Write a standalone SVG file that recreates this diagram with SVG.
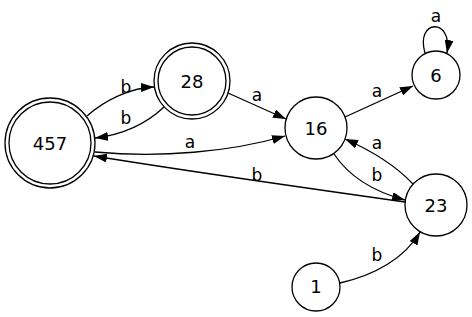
<svg xmlns="http://www.w3.org/2000/svg" width="472" height="317" viewBox="0 0 472 317">
<style>
.n{fill:#fff;stroke:#000;stroke-width:1.3}
.e{fill:none;stroke:#000;stroke-width:1.3}
.t{font-family:"DejaVu Sans",sans-serif;font-size:18px;text-anchor:middle;fill:#000}
.l{font-family:"DejaVu Sans",sans-serif;font-size:17px;text-anchor:middle;fill:#000}
</style>
<defs>
<marker id="ah" viewBox="0 0 13 9" refX="13" refY="4.5" markerWidth="13" markerHeight="9" markerUnits="userSpaceOnUse" orient="auto">
<path d="M0,0 L13,4.5 L0,9 z" fill="#000"/>
</marker>
</defs>
<rect width="472" height="317" fill="#fff"/>
<g id="edges">
<path class="e" marker-end="url(#ah)" d="M87,116 C105,100 130,88 154,87"/>
<text class="l" x="126" y="93">b</text>
<path class="e" marker-end="url(#ah)" d="M164,107 C145,125 120,135 95,138"/>
<text class="l" x="126" y="124">b</text>
<path class="e" marker-end="url(#ah)" d="M95,152 C160,158 230,152 285,136"/>
<text class="l" x="190" y="148">a</text>
<path class="e" marker-end="url(#ah)" d="M405,202 C320,190 180,170 94,156"/>
<text class="l" x="257" y="181">b</text>
<path class="e" marker-end="url(#ah)" d="M228,93 L286,119"/>
<text class="l" x="257" y="101">a</text>
<path class="e" marker-end="url(#ah)" d="M345,117 L413,86"/>
<text class="l" x="377" y="97">a</text>
<path class="e" marker-end="url(#ah)" d="M425,53 C415,19 453,17 447,53"/>
<text class="l" x="436" y="22">a</text>
<path class="e" marker-end="url(#ah)" d="M334,154 C350,178 375,192 405,200"/>
<text class="l" x="377" y="181">b</text>
<path class="e" marker-end="url(#ah)" d="M413,184 C395,165 370,150 345,139"/>
<text class="l" x="377" y="149">a</text>
<path class="e" marker-end="url(#ah)" d="M340,283 C375,275 405,258 420,232"/>
<text class="l" x="377" y="261">b</text>
</g>
<g id="n457">
<circle class="n" cx="50" cy="143" r="45"/>
<circle class="n" cx="50" cy="143" r="41"/>
<text class="t" x="50" y="150">457</text>
</g>
<g id="n28">
<circle class="n" cx="192" cy="81" r="38"/>
<circle class="n" cx="192" cy="81" r="34"/>
<text class="t" x="192" y="88">28</text>
</g>
<g id="n16">
<circle class="n" cx="316" cy="128" r="31"/>
<text class="t" x="316" y="135">16</text>
</g>
<g id="n6">
<circle class="n" cx="436" cy="75" r="24"/>
<text class="t" x="436" y="82">6</text>
</g>
<g id="n23">
<circle class="n" cx="436" cy="205" r="31"/>
<text class="t" x="436" y="212">23</text>
</g>
<g id="n1">
<circle class="n" cx="316" cy="287" r="24"/>
<text class="t" x="316" y="293">1</text>
</g>
</svg>
